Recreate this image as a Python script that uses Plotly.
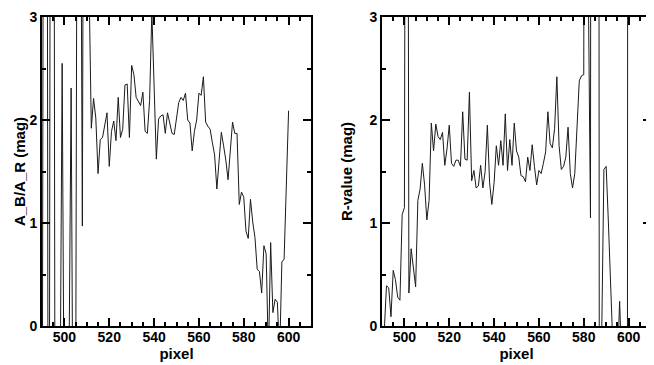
import plotly.graph_objects as go
from plotly.subplots import make_subplots

# pixel positions (one point per pixel)
pixel = list(range(490, 601))

# left panel: A_B/A_R (mag)
ab_ar = [-3, 10, 10, -6, 10, 10, -4, -2, -1, 2.55,
         -1.5, -1, -0.5, 2.31, -2, -1, 8, 6, 0.97, 9,
         7, 3.3, 1.92, 2.21, 2.02, 1.48, 1.81, 1.83, 1.95, 2.07,
         1.55, 1.89, 1.99, 1.80, 2.22, 1.83, 1.91, 2.34, 2.35, 1.83,
         2.53, 2.44, 2.22, 2.18, 2.14, 2.27, 1.89, 1.87, 2.19, 3.05,
         2.35, 1.62, 2.01, 2.04, 2.05, 1.87, 2.07, 1.95, 1.87, 1.86,
         2.04, 2.17, 2.22, 2.19, 2.26, 2.00, 1.97, 1.70, 1.89, 2.00,
         2.26, 2.24, 2.42, 1.98, 1.94, 1.91, 1.78, 1.66, 1.33, 1.59,
         1.88, 1.75, 1.61, 1.42, 1.70, 1.98, 1.87, 1.87, 1.18, 1.30,
         1.25, 0.92, 0.85, 1.23, 1.01, 0.86, 0.55, 0.53, 0.32, 0.78,
         0.70, -0.3, 0.81, 0.13, 0.26, 0.23, -0.3, 0.62, 0.65, 1.37,
         2.09]

# right panel: R-value (mag)
r_value = [-0.5, -0.05, 0.39, 0.37, 0.09, 0.54, 0.45, 0.28, 0.25, 1.08,
           1.15, 12, 0.32, 0.75, 0.57, 0.38, 1.22, 1.33, 1.58, 1.37,
           1.03, 1.22, 1.97, 1.70, 1.96, 1.84, 1.81, 1.88, 1.56, 1.72,
           1.95, 1.58, 1.55, 1.61, 1.61, 1.55, 2.08, 1.62, 1.61, 2.27,
           1.41, 1.51, 1.34, 1.36, 1.56, 1.34, 1.50, 1.95, 1.39, 1.18,
           1.39, 1.75, 1.56, 1.80, 1.56, 2.06, 1.51, 1.81, 1.56, 1.97,
           1.70, 1.64, 1.46, 1.45, 1.40, 1.64, 1.51, 1.76, 1.55, 1.37,
           1.51, 1.48, 1.58, 1.69, 2.08, 1.77, 1.73, 1.92, 2.42, 1.75,
           1.52, 1.55, 1.64, 1.93, 1.48, 1.34, 1.48, 1.98, 2.38, 2.43,
           2.44, 15, 3.4, 1.05, 25, 20, 30, -3, -0.1, 1.52,
           1.55, 1.0, 0.5, -0.1, -0.8, -0.4, 0.24, -0.4, -0.8, -20,
           20]

font = dict(family='Liberation Sans, Arial, sans-serif', size=14, color='black', weight='bold')

# page body has an 8px margin, so the figure is a bit smaller than the window
W, H = 646, 357

fig = make_subplots(rows=1, cols=2)
fig.add_trace(go.Scatter(x=pixel, y=ab_ar, mode='lines',
                         line=dict(color='#1a1a1a', width=1)), row=1, col=1)
fig.add_trace(go.Scatter(x=pixel, y=r_value, mode='lines',
                         line=dict(color='#1a1a1a', width=1)), row=1, col=2)

fig.update_layout(width=W, height=H, showlegend=False,
                  margin=dict(l=0, r=0, t=0, b=0),
                  plot_bgcolor='white', paper_bgcolor='white', font=font)

# top kept a few px down so the "3" label is not cut by the page edge
ydom = [1 - 318/H, 1 - 9/H]
fig.update_xaxes(range=[490, 610], tickvals=[500, 520, 540, 560, 580, 600], automargin=False,
                 ticks='inside', ticklen=8, tickwidth=1.5, tickcolor='black',
                 minor=dict(dtick=5, ticks='inside', ticklen=4, tickwidth=1.5, tickcolor='black'),
                 showline=True, linewidth=2, linecolor='black', mirror='ticks',
                 showgrid=False, zeroline=False, tickfont=font, ticklabelstandoff=-3,
                 title=dict(text='pixel', font=dict(font, size=15), standoff=2))
fig.update_yaxes(range=[0, 3.0001], tickvals=[0, 1, 2, 3], domain=ydom, automargin=False,
                 ticks='inside', ticklen=8, tickwidth=1.5, tickcolor='black',
                 minor=dict(dtick=0.5, ticks='inside', ticklen=4, tickwidth=1.5, tickcolor='black'),
                 showline=True, linewidth=2, linecolor='black', mirror='ticks',
                 showgrid=False, zeroline=False, tickfont=font, ticklabeloverflow='allow')
fig.update_xaxes(domain=[34/W, 303/W], row=1, col=1)
fig.update_xaxes(domain=[374/W, 643/W], row=1, col=2)
fig.update_yaxes(title=dict(text='A_B/A_R (mag)', font=dict(font, size=15), standoff=0), row=1, col=1)
fig.update_yaxes(title=dict(text='R-value (mag)', font=dict(font, size=15), standoff=13), row=1, col=2)

fig.write_html("out.html")
